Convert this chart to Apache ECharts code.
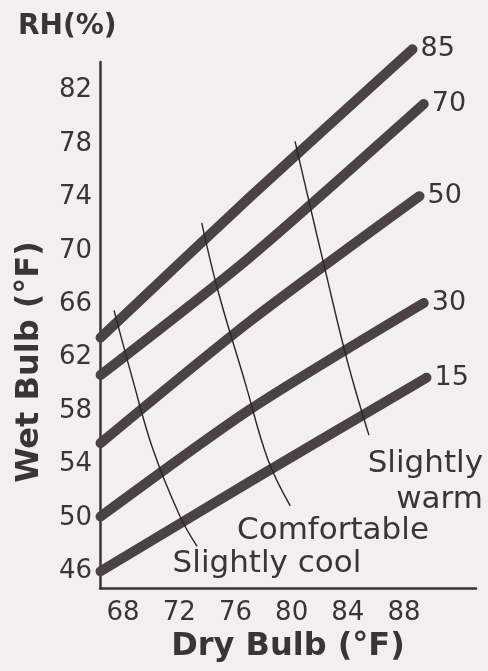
<!DOCTYPE html>
<html><head><meta charset="utf-8">
<script src="https://cdn.jsdelivr.net/npm/echarts@6/dist/echarts.min.js"></script>
<style>html,body{margin:0;padding:0;background:#f2f0ef}#c{width:488px;height:671px}</style>
</head><body><div id="c"></div>
<script>
const xTicks = [68, 72, 76, 80, 84, 88];
const yTicks = [46, 50, 54, 58, 62, 66, 70, 74, 78, 82];
const rhNames = ['85', '70', '50', '30', '15'];
const rh85Dry = [66.4, 77.0, 88.6], rh85Wet = [63.5, 74.0, 85.1];
const rh70Dry = [66.4, 77.0, 89.4], rh70Wet = [60.7, 69.5, 81.0];
const rh50Dry = [66.4, 77.0, 89.1], rh50Wet = [55.6, 64.7, 74.1];
const rh30Dry = [66.4, 77.0, 89.4], rh30Wet = [50.1, 58.1, 66.1];
const rh15Dry = [66.4, 77.0, 89.6], rh15Wet = [46.0, 52.7, 60.5];
const coolDry = [67.36, 68.64, 70.14, 72.06, 73.27];
const coolWet = [65.55, 60.55, 55.1, 50.1, 47.87];
const comfDry = [73.6, 74.76, 76.7, 78.3, 79.9];
const comfWet = [72.1, 67.0, 60.1, 54.4, 50.9];
const warmDry = [80.24, 81.17, 82.4, 84.0, 85.5];
const warmWet = [78.2, 74.0, 68.5, 61.6, 56.2];
const zoneLabels = ['Slightly\nwarm', 'Comfortable', 'Slightly cool'];

const ink = '#3b3436';
const thick = '#4b4244';
const font = 'DejaVu Sans';
const zip = (a, b) => a.map((v, i) => [v, b[i]]);

const rhSets = [[rh85Dry, rh85Wet], [rh70Dry, rh70Wet], [rh50Dry, rh50Wet], [rh30Dry, rh30Wet], [rh15Dry, rh15Wet]];
const series = rhSets.map((s, i) => ({
  type: 'line', name: rhNames[i], data: zip(s[0], s[1]), smooth: 0.25,
  symbol: 'none', clip: false, silent: true,
  lineStyle: { color: thick, width: 10, cap: 'round', join: 'round' },
  endLabel: { show: true, formatter: '{a}', color: ink, fontSize: 27, fontFamily: font, distance: 8 }
}));
[[coolDry, coolWet], [comfDry, comfWet], [warmDry, warmWet]].forEach(s => series.push({
  type: 'line', data: zip(s[0], s[1]), smooth: 0.4, symbol: 'none', clip: false, silent: true,
  lineStyle: { color: '#2a2426', width: 1.4 }
}));

const chart = echarts.init(document.getElementById('c'));
chart.setOption({
  backgroundColor: '#f2f0ef',
  animation: false,
  grid: { left: 100, right: 12, top: 62, bottom: 83 },
  xAxis: {
    type: 'value', min: 66.36, max: 93.12,
    name: 'Dry Bulb (°F)', nameLocation: 'middle', nameGap: 43,
    nameTextStyle: { color: ink, fontSize: 32, fontWeight: 'bold', fontFamily: font },
    axisLine: { lineStyle: { color: ink, width: 2.5 } },
    axisTick: { show: false }, splitLine: { show: false },
    axisLabel: { customValues: xTicks, color: ink, fontSize: 26, fontFamily: font, margin: 12 }
  },
  yAxis: {
    type: 'value', min: 44.75, max: 84.15,
    axisLine: { show: true, lineStyle: { color: ink, width: 2.5 } },
    axisTick: { show: false }, splitLine: { show: false },
    axisLabel: { customValues: yTicks, color: ink, fontSize: 26, fontFamily: font, margin: 8 }
  },
  graphic: [
    { type: 'text', left: 18, top: 13, style: { text: 'RH(%)', fill: ink, font: 'bold 28px "DejaVu Sans"' } },
    { type: 'text', x: 30, y: 362, rotation: Math.PI / 2, style: { text: 'Wet Bulb (°F)', fill: ink, font: 'bold 32px "DejaVu Sans"', textAlign: 'center', textVerticalAlign: 'middle' } },
    { type: 'text', x: 483, y: 482, style: { text: zoneLabels[0], fill: ink, font: '31px "DejaVu Sans"', textAlign: 'right', textVerticalAlign: 'middle', lineHeight: 36 } },
    { type: 'text', x: 333, y: 531, style: { text: zoneLabels[1], fill: ink, font: '31px "DejaVu Sans"', textAlign: 'center', textVerticalAlign: 'middle' } },
    { type: 'text', x: 267, y: 564, style: { text: zoneLabels[2], fill: ink, font: '31px "DejaVu Sans"', textAlign: 'center', textVerticalAlign: 'middle' } }
  ],
  series
});
</script></body></html>
